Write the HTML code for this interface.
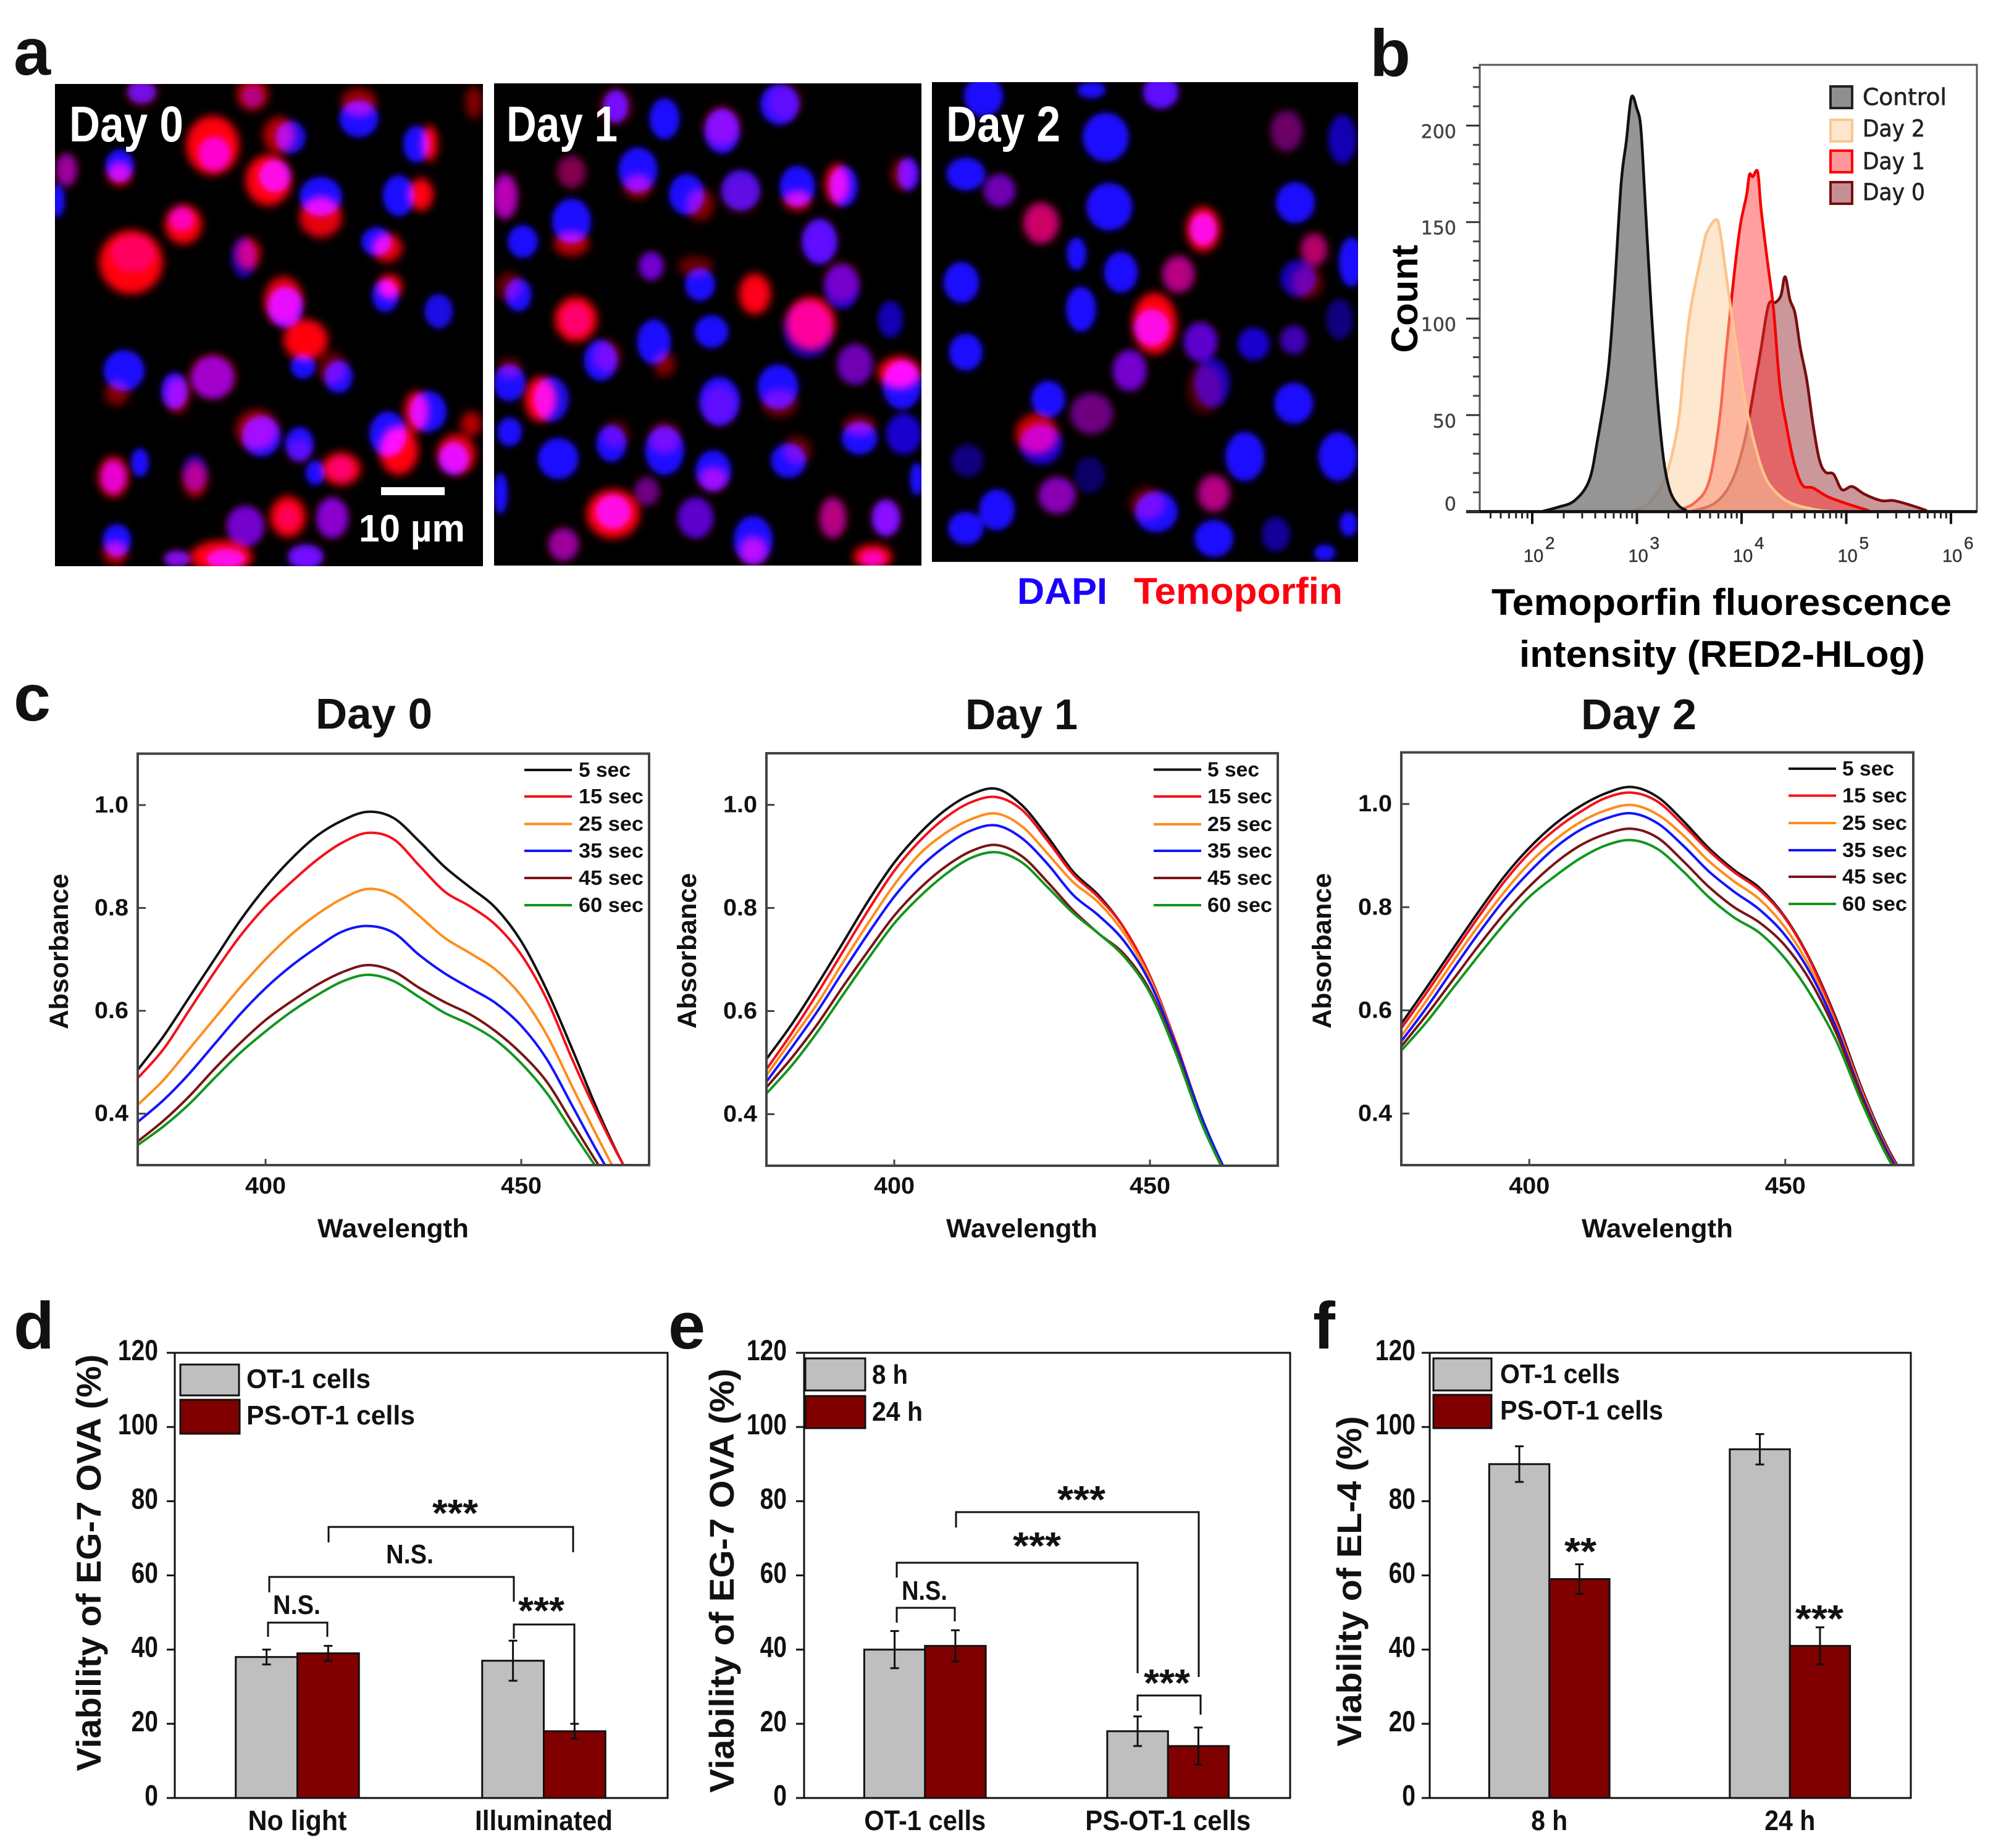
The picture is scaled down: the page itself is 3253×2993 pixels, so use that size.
<!DOCTYPE html>
<html lang="en">
<head>
<meta charset="utf-8">
<title>Temoporfin uptake, absorbance and viability figure</title>
<style>
html,body{margin:0;padding:0;background:#fff;}
#figure{display:block;position:absolute;left:0;top:0;}
text{font-family:"Liberation Sans",Arial,sans-serif;font-weight:bold;fill:#111;}
.dj{font-family:"DejaVu Sans",sans-serif;font-weight:normal;fill:#222;stroke:#222;stroke-width:.7px;}
.cal{font-family:"Liberation Sans",sans-serif;font-weight:bold;fill:#000;}
.wh{fill:#fff;}
.ann{fill:none;stroke:#111;stroke-width:3;}
.fr{fill:none;stroke:#444;stroke-width:4;}
.frb{fill:none;stroke:#111;stroke-width:3;}
</style>
</head>
<body>
<svg id="figure" xmlns="http://www.w3.org/2000/svg" width="3253" height="2993" viewBox="0 0 3253 2993">
<defs>
<filter id="soft" x="-10%" y="-10%" width="120%" height="120%"><feGaussianBlur stdDeviation="5"/></filter>
<filter id="softer" x="-10%" y="-10%" width="120%" height="120%"><feGaussianBlur stdDeviation="7"/></filter>
</defs>
<rect x="0" y="0" width="3253" height="2993" fill="#fff"/>

<!-- Panel letters -->
<text x="22" y="121" font-size="108">a</text>
<text x="2218" y="123" font-size="108">b</text>
<text x="22" y="1167" font-size="108">c</text>
<text x="22" y="2184" font-size="108">d</text>
<text x="1082" y="2184" font-size="108">e</text>
<text x="2126" y="2184" font-size="108">f</text>

<!-- Panel a micrographs -->
<g id="micrographs"></g>
<text x="112" y="229" font-size="82" textLength="185" lengthAdjust="spacingAndGlyphs" class="wh">Day 0</text>
<text x="820" y="229" font-size="82" textLength="180" lengthAdjust="spacingAndGlyphs" class="wh">Day 1</text>
<text x="1532" y="229" font-size="82" textLength="185" lengthAdjust="spacingAndGlyphs" class="wh">Day 2</text>
<rect x="617" y="789" width="103" height="13" fill="#fff"/>
<text x="581" y="877" font-size="62" textLength="172" lengthAdjust="spacingAndGlyphs" class="wh">10 µm</text>
<text x="1647" y="978" font-size="60" textLength="146" lengthAdjust="spacingAndGlyphs" style="fill:#1a00ff">DAPI</text>
<text x="1836" y="978" font-size="60" textLength="338" lengthAdjust="spacingAndGlyphs" style="fill:#ff0010">Temoporfin</text>

<!-- Panel b -->
<g id="flow"></g>
<text transform="translate(2295,484) rotate(-90)" text-anchor="middle" font-size="60" textLength="175" lengthAdjust="spacingAndGlyphs" class="cal">Count</text>
<text x="2415" y="996" font-size="60" textLength="745" lengthAdjust="spacingAndGlyphs" class="cal">Temoporfin  fluorescence</text>
<text x="2460" y="1080" font-size="60" textLength="657" lengthAdjust="spacingAndGlyphs" class="cal">intensity (RED2-HLog)</text>
<g>
<rect x="2964" y="140" width="35" height="35" fill="#8f8f8f" stroke="#222" stroke-width="4"/>
<rect x="2964" y="194" width="35" height="35" fill="#ffe6d0" stroke="#fcc78f" stroke-width="4"/>
<rect x="2964" y="244" width="35" height="35" fill="#ff9699" stroke="#f00" stroke-width="4"/>
<rect x="2964" y="295" width="35" height="35" fill="#c38f92" stroke="#7a0c0c" stroke-width="4"/>
<text x="3016" y="170" font-size="37" textLength="136" lengthAdjust="spacingAndGlyphs" class="dj">Control</text>
<text x="3016" y="221" font-size="37" textLength="101" lengthAdjust="spacingAndGlyphs" class="dj">Day 2</text>
<text x="3016" y="274" font-size="37" textLength="101" lengthAdjust="spacingAndGlyphs" class="dj">Day 1</text>
<text x="3016" y="324" font-size="37" textLength="101" lengthAdjust="spacingAndGlyphs" class="dj">Day 0</text>
</g>

<!-- Panel c -->
<g id="spectra"></g>
<text x="511" y="1180" font-size="70" textLength="189" lengthAdjust="spacingAndGlyphs">Day 0</text>
<text x="1563" y="1181" font-size="70" textLength="182" lengthAdjust="spacingAndGlyphs">Day 1</text>
<text x="2560" y="1181" font-size="70" textLength="187" lengthAdjust="spacingAndGlyphs">Day 2</text>
<text transform="translate(110,1541) rotate(-90)" text-anchor="middle" font-size="43" textLength="252" lengthAdjust="spacingAndGlyphs">Absorbance</text>
<text transform="translate(1127,1540) rotate(-90)" text-anchor="middle" font-size="43" textLength="252" lengthAdjust="spacingAndGlyphs">Absorbance</text>
<text transform="translate(2155,1540) rotate(-90)" text-anchor="middle" font-size="43" textLength="252" lengthAdjust="spacingAndGlyphs">Absorbance</text>
<text x="514" y="2004" font-size="43" textLength="245" lengthAdjust="spacingAndGlyphs">Wavelength</text>
<text x="1532" y="2004" font-size="43" textLength="245" lengthAdjust="spacingAndGlyphs">Wavelength</text>
<text x="2561" y="2004" font-size="43" textLength="245" lengthAdjust="spacingAndGlyphs">Wavelength</text>

<!-- Panels d e f -->
<g id="bars"></g>

<text transform="translate(163,2531) rotate(-90)" text-anchor="middle" font-size="56" textLength="675" lengthAdjust="spacingAndGlyphs">Viability of EG-7 OVA (%)</text>
<rect x="292" y="2210" width="95" height="50" fill="#bfbfbf" stroke="#111" stroke-width="3"/>
<rect x="292" y="2267" width="96" height="55" fill="#800000" stroke="#111" stroke-width="3"/>
<text x="399" y="2248" font-size="44" textLength="201" lengthAdjust="spacingAndGlyphs">OT-1 cells</text>
<text x="399" y="2307" font-size="44" textLength="273" lengthAdjust="spacingAndGlyphs">PS-OT-1 cells</text>
<polyline class="ann" points="434,2651 434,2628 530,2628 530,2651"/>
<polyline class="ann" points="436,2579 436,2554 832,2554 832,2594"/>
<polyline class="ann" points="532,2498 532,2473 928,2473 928,2514"/>
<polyline class="ann" points="832,2654 832,2631 930,2631 930,2793"/>
<text x="442" y="2614" font-size="44" textLength="77" lengthAdjust="spacingAndGlyphs">N.S.</text>
<text x="625" y="2532" font-size="44" textLength="77" lengthAdjust="spacingAndGlyphs">N.S.</text>
<text x="700" y="2472" font-size="62" textLength="74" lengthAdjust="spacingAndGlyphs">***</text>
<text x="839" y="2630" font-size="62" textLength="75" lengthAdjust="spacingAndGlyphs">***</text>

<text transform="translate(1188,2560) rotate(-90)" text-anchor="middle" font-size="56" textLength="687" lengthAdjust="spacingAndGlyphs">Viability of EG-7 OVA (%)</text>
<rect x="1304" y="2200" width="97" height="52" fill="#bfbfbf" stroke="#111" stroke-width="3"/>
<rect x="1304" y="2261" width="97" height="52" fill="#800000" stroke="#111" stroke-width="3"/>
<text x="1412" y="2241" font-size="44" textLength="58" lengthAdjust="spacingAndGlyphs">8 h</text>
<text x="1412" y="2301" font-size="44" textLength="82" lengthAdjust="spacingAndGlyphs">24 h</text>
<polyline class="ann" points="1452,2628 1452,2604 1546,2604 1546,2626"/>
<polyline class="ann" points="1452,2555 1452,2531 1842,2531 1842,2710"/>
<polyline class="ann" points="1548,2474 1548,2449 1941,2449 1941,2716"/>
<polyline class="ann" points="1842,2771 1842,2746 1944,2746 1944,2777"/>
<text x="1460" y="2591" font-size="44" textLength="74" lengthAdjust="spacingAndGlyphs">N.S.</text>
<text x="1640" y="2525" font-size="62" textLength="78" lengthAdjust="spacingAndGlyphs">***</text>
<text x="1712" y="2450" font-size="62" textLength="78" lengthAdjust="spacingAndGlyphs">***</text>
<text x="1852" y="2747" font-size="62" textLength="75" lengthAdjust="spacingAndGlyphs">***</text>

<text transform="translate(2204,2561) rotate(-90)" text-anchor="middle" font-size="56" textLength="535" lengthAdjust="spacingAndGlyphs">Viability of EL-4 (%)</text>
<rect x="2321" y="2200" width="94" height="52" fill="#bfbfbf" stroke="#111" stroke-width="3"/>
<rect x="2321" y="2259" width="94" height="54" fill="#800000" stroke="#111" stroke-width="3"/>
<text x="2429" y="2240" font-size="44" textLength="194" lengthAdjust="spacingAndGlyphs">OT-1 cells</text>
<text x="2429" y="2299" font-size="44" textLength="264" lengthAdjust="spacingAndGlyphs">PS-OT-1 cells</text>
<text x="2533" y="2534" font-size="62" textLength="52" lengthAdjust="spacingAndGlyphs">**</text>
<text x="2907" y="2643" font-size="62" textLength="78" lengthAdjust="spacingAndGlyphs">***</text>
</svg>

<script>
/* ---------- Panel b data ---------- */
const flowControlLog=[2.087,2.246,2.404,2.543,2.622,2.721,2.78,2.848,2.899,2.947,2.998,3.038,3.077,3.137,3.196,3.255,3.315,3.394,3.473];
const flowControlCount=[0,2.3,5.7,16,36.5,70.8,110,169,192,214.6,209,198.6,162,105,59,27,11,3.4,0.5];
const flowDay2Log=[2.958,3.117,3.275,3.394,3.453,3.513,3.632,3.671,3.758,3.798,3.85,3.909,3.968,4.028,4.107,4.206,4.305,4.463,4.701,4.899];
const flowDay2Count=[0,4.6,18.3,45.7,77.6,105,137,145,151.4,144,123.7,100.5,80,59,38.8,20.5,11.4,4.6,1.1,0];
const flowDay1Log=[3.354,3.552,3.691,3.79,3.85,3.929,3.988,4.048,4.075,4.107,4.154,4.186,4.246,4.305,4.364,4.424,4.503,4.582,4.681,4.82,4.978,5.216];
const flowDay1Count=[0,4.6,16,48,82,123,148.4,164,174.6,173.5,176,157,130,105,66,45.7,25,13.7,12.3,7.8,4.6,0.5];
const flowDay0Log=[3.513,3.75,3.909,4.028,4.127,4.186,4.257,4.325,4.376,4.416,4.463,4.511,4.562,4.622,4.681,4.741,4.8,4.879,4.958,5.057,5.176,5.335,5.453,5.612,5.77];
const flowDay0Count=[0,4.6,16,36.5,66,84.5,107,108.4,112,121.7,109.6,102.7,84.5,68.5,45.7,27.4,20.5,19.4,11.4,13,9,5.7,5.7,3.4,0.5];
const flowYTicks=[0,50,100,150,200];
const flowYMinor=[10,20,30,40,60,70,80,90,110,120,130,140,160,170,180,190,210,220,230];
const flowXExponents=[2,3,4,5,6];
const flowSuperscripts=["2","3","4","5","6"];

/* ---------- Panel c data ---------- */
const wavelengths=[375,380,385,390,395,400,405,410,415,420,425,430,435,440,445,450,455,460,465,470,475];
const absYTicks=[0.4,0.6,0.8,1.0];
const absYLabels=["0.4","0.6","0.8","1.0"];
const absXTicks=[400,450];
const absXLabels=["400","450"];
const timeLabels=["5 sec","15 sec","25 sec","35 sec","45 sec","60 sec"];
const day0Sec5=[.485,.55,.625,.70,.775,.84,.895,.94,.97,.987,.975,.93,.88,.84,.80,.735,.64,.525,.405,.30,.22];
const day0Sec15=[.469,.525,.60,.675,.745,.803,.85,.893,.927,.946,.934,.883,.832,.803,.767,.709,.622,.505,.397,.30,.22];
const day0Sec25=[.417,.465,.525,.585,.645,.70,.748,.787,.818,.837,.825,.785,.742,.712,.68,.629,.553,.452,.353,.26,.19];
const day0Sec35=[.384,.426,.477,.535,.593,.644,.687,.723,.754,.765,.752,.709,.673,.644,.615,.571,.506,.415,.324,.24,.17];
const day0Sec45=[.346,.386,.433,.487,.537,.582,.618,.65,.675,.689,.677,.645,.617,.593,.56,.517,.462,.382,.302,.23,.16];
const day0Sec60=[.339,.375,.418,.469,.518,.56,.598,.63,.657,.67,.658,.627,.596,.573,.543,.498,.44,.365,.291,.22,.15];
const day1Sec5=[.507,.575,.652,.733,.815,.888,.945,.99,1.02,1.031,.999,.938,.87,.824,.76,.668,.54,.397,.285,.19,.12];
const day1Sec15=[.487,.558,.635,.716,.797,.872,.93,.975,1.005,1.015,.99,.93,.865,.82,.76,.668,.54,.395,.285,.19,.12];
const day1Sec25=[.475,.545,.615,.695,.772,.845,.905,.945,.972,.983,.958,.905,.85,.81,.75,.662,.535,.39,.28,.185,.12];
const day1Sec35=[.463,.53,.60,.677,.752,.822,.878,.92,.95,.96,.935,.885,.825,.785,.735,.655,.535,.395,.285,.19,.12];
const day1Sec45=[.452,.51,.575,.648,.718,.785,.838,.88,.91,.922,.90,.85,.795,.75,.71,.64,.525,.385,.28,.185,.12];
const day1Sec60=[.44,.495,.56,.632,.703,.77,.822,.865,.897,.908,.888,.84,.79,.75,.705,.635,.52,.385,.278,.185,.12];
const day2Sec5=[.574,.645,.718,.79,.858,.915,.961,.996,1.021,1.033,1.014,.968,.915,.872,.837,.78,.695,.582,.447,.333,.25];
const day2Sec15=[.565,.635,.708,.78,.848,.905,.95,.985,1.012,1.022,1.005,.96,.91,.868,.833,.778,.693,.578,.443,.33,.25];
const day2Sec25=[.55,.62,.693,.763,.828,.885,.93,.965,.988,.998,.98,.94,.89,.85,.815,.76,.68,.57,.44,.327,.245];
const day2Sec35=[.54,.606,.678,.748,.813,.868,.915,.95,.972,.982,.963,.92,.87,.83,.795,.745,.67,.565,.435,.325,.245];
const day2Sec45=[.53,.592,.658,.724,.786,.84,.885,.92,.942,.952,.935,.89,.84,.80,.77,.725,.655,.555,.43,.32,.24];
const day2Sec60=[.522,.578,.642,.705,.766,.82,.86,.895,.92,.93,.913,.87,.82,.78,.75,.70,.63,.54,.42,.315,.235];

/* ---------- Panels d, e, f data ---------- */
const viabilityTicks=[0,20,40,60,80,100,120];
const viabilityTickLabels=["0","20","40","60","80","100","120"];
const panelDCategories=["No light","Illuminated"];
const panelDGrey=[38,37];
const panelDRed=[39,18];
const panelDGreyErr=[2,5.4];
const panelDRedErr=[2,2];
const panelECategories=["OT-1 cells","PS-OT-1 cells"];
const panelEGrey=[40,18];
const panelERed=[41,14];
const panelEGreyErr=[5,4];
const panelERedErr=[4.2,5];
const panelFCategories=["8 h","24 h"];
const panelFGrey=[90,94];
const panelFRed=[59,41];
const panelFGreyErr=[4.8,4.1];
const panelFRedErr=[4,5];

const NS='http://www.w3.org/2000/svg';
function make(parent,tag,attrs,txt){
  const el=document.createElementNS(NS,tag);
  for(const k in attrs) el.setAttribute(k,attrs[k]);
  if(txt!==undefined) el.textContent=txt;
  parent.appendChild(el);
  return el;
}
function smooth(p){
  let d='M'+p[0][0].toFixed(1)+' '+p[0][1].toFixed(1);
  for(let i=0;i<p.length-1;i++){
    const a=p[i-1]||p[i],b=p[i],c=p[i+1],e=p[i+2]||c;
    d+=' C'+(b[0]+(c[0]-a[0])/6).toFixed(1)+' '+(b[1]+(c[1]-a[1])/6).toFixed(1)+' '+(c[0]-(e[0]-b[0])/6).toFixed(1)+' '+(c[1]-(e[1]-b[1])/6).toFixed(1)+' '+c[0].toFixed(1)+' '+c[1].toFixed(1);
  }
  return d;
}

/* ---------- Panel b ---------- */
(function(){
  const g=document.getElementById('flow');
  const L=2396,R=3201,T=105,B=828.6;
  const fx=v=>2481+(v-2)*169.5;
  const fy=v=>B-v*3.126;
  const frame=make(g,'rect',{x:L,y:T,width:R-L,height:B-T,class:'fr',style:'stroke:#555;stroke-width:3'});
  
  
  const series=[
    ['day-0',flowDay0Log,flowDay0Count,'#8b1c24',.46,'#7a0c0c'],
    ['day-1',flowDay1Log,flowDay1Count,'#ff2a2a',.45,'#f50000'],
    ['day-2',flowDay2Log,flowDay2Count,'#fbcf9f',.5,'#fbc48c'],
    ['control',flowControlLog,flowControlCount,'#7a7a7a',.8,'#111']
  ];
  series.forEach(s=>{
    const pts=s[1].map((v,i)=>[fx(v),fy(s[2][i])]);
    const line=smooth(pts);
    const area=make(g,'path',{d:line+' L'+pts[pts.length-1][0]+' '+B+' L'+pts[0][0]+' '+B+' Z',fill:s[3],'fill-opacity':s[4],stroke:'none'});
    
    
    const path=make(g,'path',{d:line,fill:'none',stroke:s[5],'stroke-width':4.5,'stroke-linejoin':'round'});
    
    
  });
  const base=make(g,'line',{x1:L-22,x2:R,y1:B,y2:B,stroke:'#111','stroke-width':5});
  
  
  flowYMinor.forEach(v=>{
    const t=make(g,'line',{x1:L-11,x2:L,y1:fy(v),y2:fy(v),stroke:'#444','stroke-width':3});
    
    
  });
  flowYTicks.forEach(v=>{
    const t=make(g,'line',{x1:L-22,x2:L,y1:fy(v),y2:fy(v),stroke:'#333','stroke-width':3});
    
    
    const lab=make(g,'text',{x:2358,y:v===0?fy(v)-2:fy(v)+20,'text-anchor':'end','font-size':30,class:'dj',style:'fill:#444;stroke:#444;stroke-width:.5px'},String(v));
    
    
  });
  [1,2,3,4,5].forEach(d=>[2,3,4,5,6,7,8,9].forEach(m=>{
    const x=fx(d+Math.log10(m));
    if(x<L||x>R) return;
    const t=make(g,'line',{x1:x,x2:x,y1:B,y2:B+11,stroke:'#222','stroke-width':3});
    
    
  }));
  flowXExponents.forEach((e,i)=>{
    const x=fx(e);
    const t=make(g,'line',{x1:x,x2:x,y1:B,y2:B+20,stroke:'#111','stroke-width':4});
    
    
    const lab=make(g,'text',{x:x-14,y:910,'font-size':29,style:'font-weight:normal;fill:#333;stroke:#333;stroke-width:.4px'},'10');
    
    
    const sup=make(g,'text',{x:x+21,y:889,'font-size':28,style:'font-weight:normal;fill:#333;stroke:#333;stroke-width:.4px'},flowSuperscripts[i]);
    
    
  });
})();

/* ---------- Panel c ---------- */
function drawSpectrum(day,L,R,T,B,seriesList,legendLineX,legendTextX,legendYs){
  const root=document.getElementById('spectra');
  const g=make(root,'g',{});
  
  
  const sx=v=>L+(v-375)*(R-L)/100;
  const sy=v=>B-(v-0.3)*(B-T)/0.8;
  const clip=make(g,'clipPath',{id:'spectrum-clip-'+day});
  make(clip,'rect',{x:L,y:T,width:R-L,height:B-T});
  const colors=['#111','#f5101a','#ff8c1a','#1414ff','#7a1414','#12961e'];
  const names=['5s','15s','25s','35s','45s','60s'];
  seriesList.forEach((vals,i)=>{
    const pts=vals.map((v,j)=>[sx(wavelengths[j]),sy(v)]);
    const p=make(g,'path',{d:smooth(pts),fill:'none',stroke:colors[i],'stroke-width':4,'clip-path':'url(#spectrum-clip-'+day+')'});
    
    
    const ln=make(g,'line',{x1:legendLineX,x2:legendLineX+77,y1:legendYs[i],y2:legendYs[i],stroke:colors[i],'stroke-width':4});
    
    
    const lb=make(g,'text',{x:legendTextX,y:legendYs[i]+11,'font-size':33,textLength:i===0?84:105,lengthAdjust:'spacingAndGlyphs'},timeLabels[i]);
    
    
  });
  const fr=make(g,'rect',{x:L,y:T,width:R-L,height:B-T,class:'fr'});
  
  
  absYTicks.forEach((v,i)=>{
    const t=make(g,'line',{x1:L,x2:L+13,y1:sy(v),y2:sy(v),stroke:'#444','stroke-width':3});
    
    
    const lb=make(g,'text',{x:L-15,y:sy(v)+12,'text-anchor':'end','font-size':38,textLength:55,lengthAdjust:'spacingAndGlyphs'},absYLabels[i]);
    
    
  });
  absXTicks.forEach((v,i)=>{
    const t=make(g,'line',{x1:sx(v),x2:sx(v),y1:B-10,y2:B,stroke:'#444','stroke-width':3});
    
    
    const lb=make(g,'text',{x:sx(v),y:1933,'text-anchor':'middle','font-size':38,textLength:66,lengthAdjust:'spacingAndGlyphs'},absXLabels[i]);
    
    
  });
}
drawSpectrum(0,223,1051,1220.6,1887,[day0Sec5,day0Sec15,day0Sec25,day0Sec35,day0Sec45,day0Sec60],849,937,[1247,1290,1334.5,1378,1422,1466]);
drawSpectrum(1,1241,2069,1220,1888,[day1Sec5,day1Sec15,day1Sec25,day1Sec35,day1Sec45,day1Sec60],1868,1955,[1246.5,1290,1335,1378,1422,1466]);
drawSpectrum(2,2269,3098,1218.6,1887,[day2Sec5,day2Sec15,day2Sec25,day2Sec35,day2Sec45,day2Sec60],2896,2983,[1245,1288.6,1333,1377,1420,1464]);

/* ---------- Panels d, e, f ---------- */
function drawBars(panel,L,R,labelRight,cats,grey,red,greyErr,redErr,catLens){
  const root=document.getElementById('bars');
  const g=make(root,'g',{});
  
  
  const T=2191,B=2912;
  const y=v=>B-v*(B-T)/120;
  const cx=i=>L+(R-L)*(i+.5)/cats.length-1;
  const w=(R-L)/8;
  cats.forEach((c,i)=>{
    [[grey,greyErr,'#bfbfbf',-1,'grey'],[red,redErr,'#800000',0,'red']].forEach(s=>{
      const v=s[0][i],e=s[1][i],x=cx(i)+s[3]*w;
      const b=make(g,'rect',{x:x,y:y(v),width:w,height:B-y(v),fill:s[2],stroke:'#111','stroke-width':3});
      
      
      const m=x+w/2;
      const err=make(g,'path',{d:'M'+m+' '+y(v+e)+'V'+y(v-e)+'M'+(m-7)+' '+y(v+e)+'H'+(m+7)+'M'+(m-7)+' '+y(v-e)+'H'+(m+7),fill:'none',stroke:'#111','stroke-width':3});
      
      
    });
    const lb=make(g,'text',{x:cx(i),y:2964,'text-anchor':'middle','font-size':45,textLength:catLens[i],lengthAdjust:'spacingAndGlyphs'},c);
    
    
  });
  const fr=make(g,'rect',{x:L,y:T,width:R-L,height:B-T,class:'frb'});
  
  
  viabilityTicks.forEach((v,i)=>{
    const t=make(g,'line',{x1:L-13,x2:L,y1:y(v),y2:y(v),stroke:'#111','stroke-width':3});
    
    
    const s=viabilityTickLabels[i];
    const lb=make(g,'text',{x:labelRight,y:y(v)+12,'text-anchor':'end','font-size':47,textLength:s.length*21.7,lengthAdjust:'spacingAndGlyphs'},s);
    
    
  });
}
drawBars('d',283,1081,256,panelDCategories,panelDGrey,panelDRed,panelDGreyErr,panelDRedErr,[160,223]);
drawBars('e',1302,2089,1274,panelECategories,panelEGrey,panelERed,panelEGreyErr,panelERedErr,[197,268]);
drawBars('f',2315,3094,2292,panelFCategories,panelFGrey,panelFRed,panelFGreyErr,panelFRedErr,[59,82]);

/* ---------- Panel a: decorative fluorescence micrographs (not chart data) ---------- */
(function(){
  const frames=[
    {name:'day-0',x:89,y:136,w:693,h:781,cells:[
      [160,225,16,28,.9,160,225,18,35,.4],[285,235,12,28,.5,285,230,18,40,.7],[405,290,22,45,1,405,250,20,35,.6],[0,0,0,0,0,535,250,10,40,.5],
      [75,415,12,40,.6,75,415,12,40,.6],[135,405,16,40,1,135,425,14,30,.8],[242,375,18,42,.8,240,355,30,72,1],[328,335,17,40,.9,315,330,18,45,.7],
      [470,352,15,45,1,485,350,9,45,1],[310,430,18,40,.9,303,440,26,62,1],[362,480,24,48,1,362,530,24,50,.9],[450,478,18,50,1,475,475,14,40,1],
      [65,490,8,40,1],[205,535,14,30,.7,207,548,21,48,1],[275,630,14,50,.6,280,620,14,40,.8],[150,620,25,45,.35,148,640,36,78,1],
      [425,590,17,35,1,437,605,17,35,.9],[435,722,15,40,1,440,700,14,30,1],[495,760,16,42,.9],[322,750,20,50,1,320,735,22,60,.9],
      [342,895,14,30,1,345,830,25,50,1],[382,920,16,40,1,375,900,16,40,.4],[140,905,23,50,1,132,960,14,30,.5],[197,955,15,45,1,200,965,14,45,.6],
      [240,922,24,52,.8,240,920,26,55,.6],[483,1005,21,50,1,470,1005,14,50,.9],[295,1065,22,50,1,290,1050,24,50,.6],[338,1085,16,42,1,338,1100,14,30,.3],
      [438,1060,21,55,1,450,1100,22,60,1],[512,1120,17,40,1,515,1110,22,50,.9],[385,1145,14,30,.4,385,1145,22,40,1],[356,1155,11,30,1],
      [128,1165,14,40,.8,128,1165,17,50,.9],[158,1130,10,35,1],[220,1155,14,45,.6,220,1170,14,45,.7],[325,1262,12,30,.3,325,1262,20,50,1],
      [277,1285,21,50,.8,277,1285,22,50,.4],[375,1265,18,50,.8,375,1265,18,50,.5],[132,1320,16,40,1,130,1350,14,30,.7],[255,1365,22,25,.9,250,1360,35,40,1],
      [345,1360,20,30,1,345,1360,20,30,.4],[200,1365,15,20,.9,200,1365,15,20,.5],[0,0,0,0,0,532,1035,12,30,.7]
    ]},
    {name:'day-1',x:800,y:135,w:692,h:781,cells:[
      [695,260,14,40,1,695,260,18,45,.4],[750,290,17,50,1],[815,320,20,55,1,815,310,20,50,.5],[880,255,22,50,1,885,250,20,45,.3],
      [570,480,14,55,.7,570,480,14,55,.7],[645,420,16,40,.3,645,420,16,40,.5],[720,415,22,55,1,720,455,16,30,.6],[775,475,20,50,1,790,500,16,40,.5],
      [836,465,22,50,.9,836,470,22,50,.3],[900,455,20,50,1,900,490,16,25,.8],[952,455,16,50,1,945,450,14,50,.9],[1025,425,12,40,1,1020,425,14,40,.5],
      [645,540,22,55,1,645,595,20,30,.7],[590,590,17,40,1],[925,590,20,55,1,925,590,20,55,.3],[735,650,14,35,.8,735,650,14,35,.4],
      [790,695,17,40,1,785,650,20,25,.4],[852,718,8,20,.1,852,718,18,50,1],[950,700,20,55,.8,950,690,20,50,.4],[585,720,15,40,1,575,700,15,35,.4],
      [650,780,16,40,.4,650,780,24,55,1],[738,835,19,55,1,750,890,12,30,.5],[803,810,19,40,1],[912,805,28,70,.6,915,790,28,65,1],
      [1005,780,14,45,.7],[678,880,19,50,1,685,870,16,40,.4],[965,890,20,50,.7,965,890,20,50,.4],[575,935,18,45,1,575,900,14,25,.4],
      [622,975,20,55,.9,610,975,18,55,1],[812,980,23,60,1,812,990,20,50,.3],[878,945,23,55,1,880,985,20,35,.4],[1018,940,22,60,1,1015,910,24,40,1],
      [575,1055,14,35,1],[690,1083,17,45,1,695,1060,16,35,.3],[630,1120,23,50,1],[750,1100,22,60,1,750,1070,18,40,.4],
      [805,1150,20,50,1,805,1170,16,30,.6],[890,1125,20,42,1,900,1100,16,35,.4],[970,1070,20,40,1,970,1040,18,25,.5],[1020,1060,20,50,.8],
      [692,1250,20,42,.9,692,1255,30,60,1],[730,1200,14,35,.5,730,1200,14,35,.4],[785,1265,20,50,.8,785,1265,20,50,.3],[850,1320,22,60,1,850,1345,16,35,.7],
      [940,1265,15,50,.5,940,1265,15,50,.7],[1000,1265,16,45,1,1000,1265,16,45,.5],[636,1330,17,40,.6,636,1330,17,40,.6],[985,1365,14,20,.7,985,1360,22,30,1],
      [565,1205,8,50,1],[1035,1170,8,40,1]
    ]},
    {name:'day-2',x:1509,y:133,w:690,h:777,cells:[
      [1110,235,22,50,1],[1232,220,16,20,1],[1310,225,20,40,1,1310,225,20,40,.3],[1248,335,26,60,1],[1452,320,18,50,.4,1452,320,18,50,.4],
      [1515,340,16,60,.7],[1090,425,22,40,1],[1128,465,18,40,.7,1128,465,18,40,.4],[1252,505,26,58,1],[1175,545,20,50,.4,1175,545,20,50,.8],
      [1358,560,15,40,.9,1358,560,19,55,1],[1462,495,22,50,1],[1215,620,11,40,1],[1265,665,19,50,1],[1330,670,18,45,.5,1330,670,18,45,.7],
      [1483,610,15,40,.4,1483,610,15,40,.7],[1465,680,20,45,.7,1475,690,18,40,.4],[1525,640,14,60,1],[1085,690,20,50,1],[1220,755,17,55,1],
      [1300,800,20,45,.9,1303,790,25,75,1],[1355,835,19,48,.8,1355,835,19,48,.3],[1415,840,18,40,.8],[1460,830,15,35,.7,1460,830,15,35,.2],[1512,780,15,50,.5],
      [1090,860,19,45,1],[1275,905,19,50,.8,1275,905,19,50,.4],[1368,935,20,60,.7,1360,950,20,60,.3],[1183,975,19,45,1],[1232,1010,24,50,.5,1232,1010,24,50,.4],
      [1460,985,22,50,1],[1175,1085,24,50,.8,1170,1060,24,50,.8],[1405,1115,22,60,1],[1510,1115,22,60,1],[1092,1125,18,40,.5],[1230,1160,17,45,.4],
      [1193,1210,21,45,.7,1193,1210,21,45,.5],[1125,1245,20,50,1],[1090,1290,20,40,1],[1305,1250,24,50,1,1295,1230,20,40,.4],[1370,1205,18,45,.5,1370,1205,18,45,.7],
      [1370,1315,22,45,1],[1440,1305,16,42,.6],[1522,1280,10,30,1],[1495,1350,12,20,1]
    ]}
  ];
  const root=document.getElementById('micrographs');
  frames.forEach(f=>{
    const g=make(root,'g',{style:'isolation:isolate'});
    
    
    const clip=make(g,'clipPath',{id:'micrograph-clip-'+f.name});
    make(clip,'rect',{x:f.x,y:f.y,width:f.w,height:f.h});
    const inner=make(g,'g',{'clip-path':'url(#micrograph-clip-'+f.name+')',style:'isolation:isolate'});
    make(inner,'rect',{x:f.x,y:f.y,width:f.w,height:f.h,fill:'#000'});
    const red=make(inner,'g',{filter:'url(#softer)'});
    const blue=make(inner,'g',{filter:'url(#soft)',style:'mix-blend-mode:screen'});
    f.cells.forEach(c=>{
      if(c[4]){
        const e=make(blue,'ellipse',{cx:c[0]/.697,cy:c[1]/1.508,rx:c[2]/.697,ry:c[3]/1.508,fill:'#1e08ff','fill-opacity':c[4]});
        
        
      }
      if(c.length>5){
        const e=make(red,'ellipse',{cx:c[5]/.697,cy:c[6]/1.508,rx:c[7]/.697,ry:c[8]/1.508,fill:'#ff0008','fill-opacity':c[9]});
        
        
      }
    });
  });
})();
</script>
</body>
</html>
